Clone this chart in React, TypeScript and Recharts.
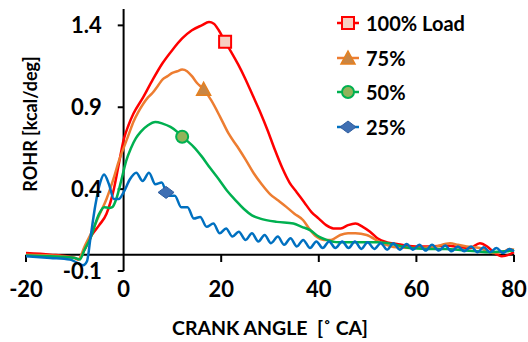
import {
  ComposedChart,
  Line,
  Scatter,
  XAxis,
  YAxis,
  ReferenceLine,
} from "recharts";

// crank angle / ROHR pairs
const load100: [number, number][] = [
  [-20, 0.01], [-15, 0.0], [-10, -0.02], [-9.3, -0.03], [-8, 0.03], [-6.5, 0.12],
  [-5, 0.18], [-3.5, 0.25], [-2, 0.4], [-1, 0.55], [0, 0.7], [1, 0.79], [2, 0.86],
  [4, 0.96], [6, 1.07], [8, 1.17], [10, 1.25], [12, 1.32], [14, 1.37], [16, 1.4],
  [17.5, 1.42], [18.5, 1.41], [19.5, 1.37], [20.8, 1.3], [22, 1.24], [23.5, 1.16],
  [25, 1.07], [26.5, 0.97], [28, 0.87], [29.5, 0.76], [31, 0.64], [32.5, 0.53],
  [34, 0.44], [35.5, 0.38], [37, 0.32], [38.5, 0.26], [40, 0.22], [41.5, 0.18],
  [43, 0.16], [44.5, 0.16], [46, 0.18], [47.5, 0.19], [49, 0.17], [50.5, 0.14],
  [52, 0.1], [54, 0.075], [56, 0.065], [58, 0.055], [60, 0.05], [63, 0.05],
  [66, 0.055], [69, 0.045], [71, 0.04], [73, 0.07], [74.5, 0.05], [76, 0.01],
  [77.5, -0.01], [79, 0.0], [80, 0.015],
];

const load75: [number, number][] = [
  [-20, 0.0], [-15, -0.005], [-10, -0.02], [-9.3, -0.03], [-8, 0.05], [-6.5, 0.14],
  [-5, 0.24], [-3.5, 0.34], [-2, 0.47], [-1, 0.57], [0, 0.65], [1, 0.73], [2, 0.81],
  [3, 0.87], [4, 0.92], [5, 0.96], [6, 0.99], [7, 1.03], [8, 1.07], [9, 1.09],
  [10, 1.11], [11, 1.12], [12, 1.13], [13, 1.12], [14, 1.09], [15, 1.05], [16.4, 1.01],
  [18, 0.94], [19.8, 0.84], [21.5, 0.74], [23.3, 0.66], [25, 0.58], [26.6, 0.5],
  [28.3, 0.43], [30, 0.37], [31.7, 0.33], [33.4, 0.29], [35, 0.25], [36.8, 0.21],
  [38, 0.16], [39.5, 0.11], [41, 0.09], [42.5, 0.09], [44.4, 0.12], [46, 0.13],
  [47.5, 0.13], [49.8, 0.12], [52.5, 0.077], [55.3, 0.047], [59.4, 0.04],
  [63.5, 0.047], [66.9, 0.07], [68.5, 0.06], [70.3, 0.05], [73, 0.04], [75.7, 0.01],
  [78, 0.02], [79, 0.035], [80, 0.03],
];

const load50: [number, number][] = [
  [-20, -0.005], [-15, -0.01], [-10, -0.02], [-9, -0.03], [-8, 0.03], [-6.8, 0.1],
  [-5, 0.25], [-4, 0.29], [-3, 0.285], [-2.3, 0.29], [-1.5, 0.34], [-0.5, 0.45],
  [0.5, 0.57], [1.5, 0.65], [2.5, 0.71], [3.5, 0.75], [5, 0.79], [6.5, 0.81],
  [8, 0.8], [9.6, 0.78], [11, 0.75], [12, 0.72], [13.2, 0.69], [14.3, 0.66],
  [16, 0.6], [17.7, 0.53], [19.5, 0.46], [21.2, 0.39], [23, 0.33], [24.6, 0.28],
  [26.3, 0.24], [28, 0.22], [31.4, 0.2], [34.8, 0.19], [36.5, 0.17], [38.2, 0.15],
  [40, 0.11], [41.6, 0.09], [44, 0.075], [48, 0.075], [52, 0.075], [55, 0.065],
  [58.7, 0.04], [62, 0.035], [66, 0.035], [70, 0.025], [72.4, 0.02], [75, 0.015],
  [78, 0.02], [80, 0.025],
];

const load25: [number, number][] = [
  [-20, -0.01], [-15, -0.02], [-11, -0.03], [-9.5, -0.05], [-8.3, -0.065],
  [-7.5, -0.04], [-6.8, 0.1], [-5.8, 0.3], [-4.8, 0.44], [-4, 0.49], [-3, 0.43],
  [-2, 0.34], [-1, 0.34], [0, 0.38], [1.3, 0.46], [2.6, 0.5], [3.9, 0.45],
  [5.2, 0.5], [6.5, 0.43], [7.8, 0.44], [9.1, 0.36], [10.5, 0.36], [11.8, 0.29],
  [13.1, 0.29], [14.4, 0.22], [15.7, 0.23], [17, 0.17], [18.4, 0.19], [19.7, 0.13],
  [21, 0.16], [22.3, 0.11], [23.6, 0.14], [25, 0.09], [26.3, 0.13], [27.6, 0.08],
  [28.9, 0.12], [30.2, 0.07], [31.6, 0.11], [32.9, 0.06], [34.2, 0.1], [35.5, 0.05],
  [36.8, 0.09], [38.2, 0.04], [39.5, 0.08], [40.8, 0.04], [42.1, 0.08], [43.4, 0.04],
  [44.8, 0.08], [46.1, 0.04], [47.4, 0.08], [48.7, 0.035], [50, 0.075], [51.4, 0.035],
  [52.7, 0.07], [54, 0.03], [55.3, 0.07], [56.6, 0.03], [58, 0.065], [59.3, 0.03],
  [60.6, 0.06], [61.9, 0.025], [63.2, 0.06], [64.6, 0.025], [65.9, 0.055], [67.2, 0.02],
  [68.5, 0.05], [69.8, 0.02], [71.2, 0.05], [72.5, 0.015], [73.8, 0.045], [75.1, 0.015],
  [76.4, 0.04], [77.8, 0.01], [79.1, 0.035], [80, 0.02],
];

// single marker per series
const markers: Record<string, [number, number]> = {
  load100: [20.8, 1.3],
  load75: [16.4, 1.01],
  load50: [12, 0.72],
  load25: [8.7, 0.38],
};

const xTicks = [-20, 0, 20, 40, 60, 80];
const yTicks = [-0.1, 0.4, 0.9, 1.4];

const FONT = "Lato, 'Open Sans', sans-serif";
const toPts = (a: [number, number][]) => a.map(([x, y]) => ({ x, y }));

type MarkerKind = "square" | "triangle" | "circle" | "diamond";

function MarkerShape({ kind, cx, cy }: { kind: MarkerKind; cx: number; cy: number }) {
  if (kind === "square")
    return <rect x={cx - 6} y={cy - 6} width={12} height={12} fill="#f7cfc2" stroke="#ff0000" strokeWidth={2} />;
  if (kind === "triangle")
    return (
      <polygon
        points={`${cx},${cy - 7} ${cx + 7},${cy + 6} ${cx - 7},${cy + 6}`}
        fill="#c98543"
        stroke="#e6801f"
        strokeWidth={1.5}
      />
    );
  if (kind === "circle")
    return <circle cx={cx} cy={cy} r={6} fill="#92b35a" stroke="#00b050" strokeWidth={2} />;
  return (
    <polygon
      points={`${cx},${cy - 6} ${cx + 8},${cy} ${cx},${cy + 6} ${cx - 8},${cy}`}
      fill="#3f6fb3"
      stroke="#2f5e9f"
      strokeWidth={1}
    />
  );
}

const series = [
  { key: "load100", name: "100% Load", data: load100, color: "#ff0000", kind: "square" as MarkerKind },
  { key: "load75", name: "75%", data: load75, color: "#ed7d31", kind: "triangle" as MarkerKind },
  { key: "load50", name: "50%", data: load50, color: "#00b050", kind: "circle" as MarkerKind },
  { key: "load25", name: "25%", data: load25, color: "#0070c0", kind: "diamond" as MarkerKind },
];

function YTitle() {
  const cx = 30;
  const cy = 124;
  return (
    <text
      x={cx}
      y={cy}
      transform={`rotate(-90 ${cx} ${cy})`}
      textAnchor="middle"
      dominantBaseline="central"
      fontFamily={FONT}
      fontWeight={700}
      fontSize={18}
      fill="#000"
    >
      ROHR [kcal/deg]
    </text>
  );
}

export default function App() {
  return (
    <div style={{ position: "absolute", left: 0, top: 0, width: 528, height: 342, background: "#fff" }}>
      <ComposedChart
        width={528}
        height={342}
        margin={{ top: 9, right: 14, bottom: 0, left: 0 }}
        style={{ overflow: "visible" }}
      >
        <XAxis
          type="number"
          dataKey="x"
          domain={[-20, 80]}
          ticks={xTicks}
          axisLine={false}
          tickLine={false}
          tickSize={0}
          tickMargin={10}
          height={71}
          interval={0}
          tick={{ fill: "#000", fontSize: 22, fontWeight: 700, fontFamily: FONT }}
          label={{
            value: "CRANK ANGLE\u00a0\u00a0[˚ CA]",
            position: "insideBottom",
            offset: 7,
            fill: "#000",
            fontSize: 19.5,
            fontWeight: 700,
            fontFamily: FONT,
          }}
        />
        <YAxis
          type="number"
          domain={[-0.1, 1.5]}
          ticks={yTicks}
          width={26}
          axisLine={false}
          tickLine={false}
          tick={false}
          label={<YTitle />}
        />
        <ReferenceLine x={0} stroke="#000" strokeWidth={2} />
        <ReferenceLine y={0} stroke="#000" strokeWidth={2} />
        {yTicks.map((v) => (
          <ReferenceLine
            key={`yt${v}`}
            segment={[{ x: -1.2, y: v }, { x: 0, y: v }]}
            stroke="#000"
            strokeWidth={2}
            label={{
              value: v.toFixed(1),
              position: "left",
              offset: 16,
              fill: "#000",
              fontSize: 22,
              fontWeight: 700,
              fontFamily: FONT,
            }}
          />
        ))}
        {xTicks
          .filter((t) => t !== 0)
          .map((t) => (
            <ReferenceLine
              key={`xt${t}`}
              segment={[{ x: t, y: 0 }, { x: t, y: -0.045 }]}
              stroke="#000"
              strokeWidth={2}
            />
          ))}
        {series.map((s) => (
          <Line
            key={s.key}
            data={toPts(s.data)}
            dataKey="y"
            type="monotone"
            stroke={s.color}
            strokeWidth={2.5}
            dot={false}
            activeDot={false}
            isAnimationActive={false}
          />
        ))}
        {series.map((s) => (
          <Scatter
            key={`m${s.key}`}
            data={[{ x: markers[s.key][0], y: markers[s.key][1] }]}
            dataKey="y"
            isAnimationActive={false}
            shape={(p: any) => <MarkerShape kind={s.kind} cx={p.cx} cy={p.cy} />}
          />
        ))}
      </ComposedChart>
      <div style={{ position: "absolute", left: 336, top: 6, fontFamily: FONT }}>
        {series.map((s) => (
          <div key={s.key} style={{ display: "flex", alignItems: "center", height: 34.5 }}>
            <svg width={24} height={18} style={{ marginRight: 6 }}>
              <line x1={1} y1={9} x2={23} y2={9} stroke={s.color} strokeWidth={2.5} />
              <MarkerShape kind={s.kind} cx={12} cy={9} />
            </svg>
            <span style={{ fontSize: 20, fontWeight: 700, color: "#000" }}>{s.name}</span>
          </div>
        ))}
      </div>
    </div>
  );
}
